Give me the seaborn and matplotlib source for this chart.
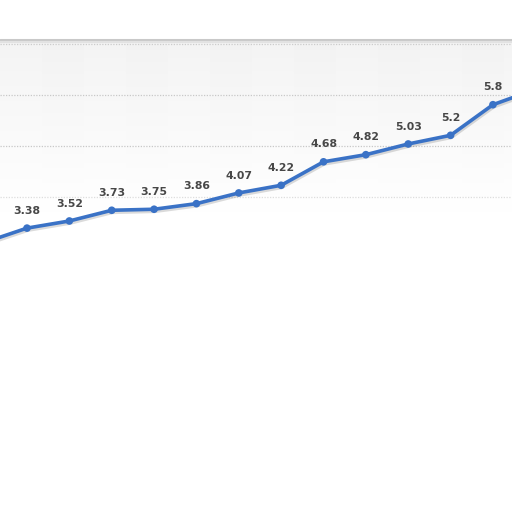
import numpy as np
import pandas as pd
import matplotlib
matplotlib.use("Agg")
import matplotlib.pyplot as plt
import matplotlib.patheffects as pe
import seaborn as sns

# values (first and last points sit just outside the crop)
values = [3.1, 3.38, 3.52, 3.73, 3.75, 3.86, 4.07, 4.22, 4.68, 4.82, 5.03, 5.2, 5.8, 6.1]
labels = ["", "3.38", "3.52", "3.73", "3.75", "3.86", "4.07", "4.22",
          "4.68", "4.82", "5.03", "5.2", "5.8", ""]
grid_values = [4, 5, 6, 7]

df = pd.DataFrame({"idx": np.arange(len(values)), "value": values})

sns.set_style("white")
fig = plt.figure(figsize=(5.12, 5.12), dpi=100)
ax = fig.add_axes([0, 0, 1, 1])

# pixel mapping: point spacing ~42.4 px, 51 px per unit, 7 sits at 43.5 px from top
x0, x1 = 0.3627, 12.45
ax.set_xlim(x0, x1)
ax.set_ylim(7 - (512 - 43.5) / 51, 7 + 43.5 / 51)

# soft grey backdrop fading downwards, with faint column bands
ny, nx = 200, 512
fade = np.linspace(0, 1, ny)[:, None] ** 0.9
cols = np.arange(nx)
band = 0.006 * ((cols // 42) % 2)[None, :]
shade = 1 - (0.045 + band) * (1 - fade)
img = np.dstack([shade, shade, shade])
ax.imshow(img, extent=[x0, x1, 3.7, 7.07], aspect="auto", zorder=0,
          interpolation="bilinear")
# top border
ax.axhline(7.07, color="#c9c9c9", lw=2.2, zorder=1)
ax.axhline(7.035, color="#e2e2e2", lw=1.5, zorder=1)

grid_colors = {4: "#dddddd", 5: "#c8c8c8", 6: "#c8c8c8", 7: "#cccccc"}
for g in grid_values:
    ax.axhline(g, color=grid_colors[g], lw=0.9, ls=(0, (1, 1.2)), zorder=1)

sns.lineplot(data=df, x="idx", y="value", ax=ax, color="#3a72c6", lw=2.6,
             marker="o", markersize=5.5, markeredgewidth=0, zorder=3,
             path_effects=[pe.SimpleLineShadow(offset=(0.5, -1.5), alpha=0.14),
                           pe.Normal()])

for i, (v, t) in enumerate(zip(values, labels)):
    if t:
        ax.annotate(t, (i, v), xytext=(0, 12.5), textcoords="offset points",
                    ha="center", va="center", fontsize=7.8, fontweight="bold",
                    color="#474747", zorder=4)

ax.set_axis_off()
fig.savefig("out.png", dpi=100, facecolor="white")
